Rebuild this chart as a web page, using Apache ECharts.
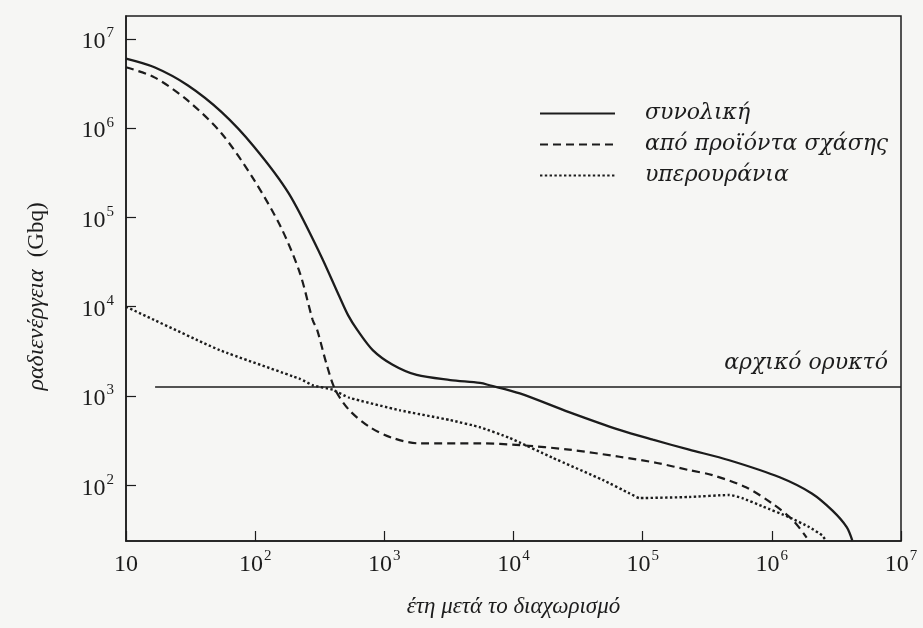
<!DOCTYPE html>
<html>
<head>
<meta charset="utf-8">
<script src="https://cdn.jsdelivr.net/npm/echarts@6/dist/echarts.min.js"></script>
<style>
  html, body { margin: 0; padding: 0; background: #f6f6f4; }
  #chart { width: 923px; height: 628px; }
</style>
</head>
<body>
<div id="chart"></div>
<script>
// values (years, Gbq)
const totalYears = [10, 16.6, 30, 55, 98, 182, 316, 447, 525, 617, 813, 1160, 1780, 3240, 5500, 6530, 11200, 26900, 66100, 120000, 229000, 468000, 1150000, 2040000, 2950000, 3800000, 4200000];
const totalValues = [6000000, 4800000, 3020000, 1510000, 620000, 186000, 39800, 13200, 8000, 5500, 3270, 2240, 1720, 1510, 1400, 1320, 1070, 660, 417, 324, 251, 191, 123, 81, 52, 34, 24];

const fissionYears = [10, 16.6, 30, 55, 98, 158, 222, 279, 302, 355, 417, 537, 776, 1160, 1860, 5500, 11200, 26900, 66100, 129000, 229000, 347000, 631000, 1000000, 1450000, 1860000];
const fissionValues = [4800000, 3700000, 2040000, 870000, 263000, 78000, 23800, 7080, 5500, 2340, 1175, 692, 447, 339, 295, 295, 282, 251, 209, 178, 148, 130, 95, 63, 41, 26];

const transuranicYears = [10, 53, 224, 279, 398, 537, 1320, 3240, 5500, 9330, 20000, 49000, 79400, 94400, 229000, 468000, 589000, 851000, 1360000, 1950000, 2450000, 2630000];
const transuranicValues = [10000, 3270, 1550, 1320, 1175, 955, 692, 537, 447, 339, 204, 115, 81, 72, 74, 78, 72, 58, 44, 34, 27.5, 24];

const oreLevel = 1280;
const oreStartYear = 16.8;
const oreEndYear = 10000000;

const seriesNames = ['συνολική', 'από προϊόντα σχάσης', 'υπερουράνια'];

const zip = (xs, ys) => xs.map((x, i) => [x, ys[i]]);
const expOf = v => Math.round(Math.log10(v));

const ink = '#1c1c1c';
const serif = '"Liberation Serif", "DejaVu Serif", serif';
const wideSerif = '"DejaVu Serif", serif';
const supRich = {
  b: { fontFamily: serif, fontSize: 24, color: ink, verticalAlign: 'bottom', lineHeight: 30 },
  s: { fontFamily: serif, fontSize: 15, color: ink, verticalAlign: 'top', padding: [2, 0, 0, 1] }
};

const chart = echarts.init(document.getElementById('chart'));
chart.setOption({
  backgroundColor: '#f6f6f4',
  animation: false,
  grid: {
    left: 126, right: 22, top: 16, bottom: 87,
    show: true, borderColor: ink, borderWidth: 1.5
  },
  legend: {
    data: seriesNames,
    orient: 'vertical',
    left: 539,
    top: 101,
    padding: 0,
    itemWidth: 75,
    itemHeight: 14,
    itemGap: 6,
    itemStyle: { opacity: 0 },
    textStyle: {
      fontFamily: wideSerif, fontStyle: 'italic', fontSize: 22, color: ink,
      lineHeight: 25, padding: [0, 0, 0, 25]
    }
  },
  xAxis: {
    type: 'log',
    logBase: 10,
    min: 10,
    max: 10000000,
    name: 'έτη μετά το διαχωρισμό',
    nameLocation: 'middle',
    nameGap: 54,
    nameTextStyle: { fontFamily: serif, fontStyle: 'italic', fontSize: 23, color: ink },
    axisLine: { lineStyle: { color: ink, width: 1.5 } },
    axisTick: { inside: true, length: 10, lineStyle: { color: ink, width: 1.2 } },
    splitLine: { show: false },
    axisLabel: {
      margin: 6,
      formatter: v => expOf(v) === 1 ? '{b|10}' : '{b|10}{s|' + expOf(v) + '}',
      rich: supRich
    }
  },
  yAxis: {
    type: 'log',
    logBase: 10,
    min: 23.8,
    max: 18000000,
    name: '{i|ραδιενέργεια}{n|(Gbq)}',
    nameLocation: 'middle',
    nameGap: 77,
    nameTextStyle: {
      padding: [0, 36, 0, 0],
      rich: {
        i: { fontFamily: serif, fontStyle: 'italic', fontSize: 24, color: ink, padding: [0, 12, 0, 0] },
        n: { fontFamily: serif, fontSize: 23, color: ink }
      }
    },
    axisLine: { lineStyle: { color: ink, width: 1.5 } },
    axisTick: { inside: true, length: 10, lineStyle: { color: ink, width: 1.2 } },
    splitLine: { show: false },
    axisLabel: {
      margin: 12,
      showMinLabel: false,
      showMaxLabel: false,
      formatter: v => '{b|10}{s|' + expOf(v) + '}',
      rich: supRich
    }
  },
  series: [
    {
      name: seriesNames[0],
      type: 'line',
      data: zip(totalYears, totalValues),
      showSymbol: false,
      symbol: 'none',
      smooth: 0.3,
      lineStyle: { color: ink, width: 2.3, type: 'solid' },
      itemStyle: { color: ink }
    },
    {
      name: seriesNames[1],
      type: 'line',
      data: zip(fissionYears, fissionValues),
      showSymbol: false,
      symbol: 'none',
      smooth: 0.3,
      lineStyle: { color: ink, width: 2.2, type: [8, 5] },
      itemStyle: { color: ink }
    },
    {
      name: seriesNames[2],
      type: 'line',
      data: zip(transuranicYears, transuranicValues),
      showSymbol: false,
      symbol: 'none',
      smooth: 0.15,
      lineStyle: { color: ink, width: 2.4, type: [2.4, 2.4] },
      itemStyle: { color: ink }
    },
    {
      name: 'αρχικό ορυκτό',
      type: 'line',
      data: [],
      markLine: {
        silent: true,
        symbol: 'none',
        lineStyle: { color: ink, width: 1.6, type: 'solid' },
        label: {
          show: true,
          position: 'insideEndTop',
          distance: [13, 12],
          formatter: 'αρχικό ορυκτό',
          fontFamily: wideSerif, fontStyle: 'italic', fontSize: 22, color: ink
        },
        data: [[{ coord: [oreStartYear, oreLevel] }, { coord: [oreEndYear, oreLevel] }]]
      }
    }
  ]
});
</script>
</body>
</html>
